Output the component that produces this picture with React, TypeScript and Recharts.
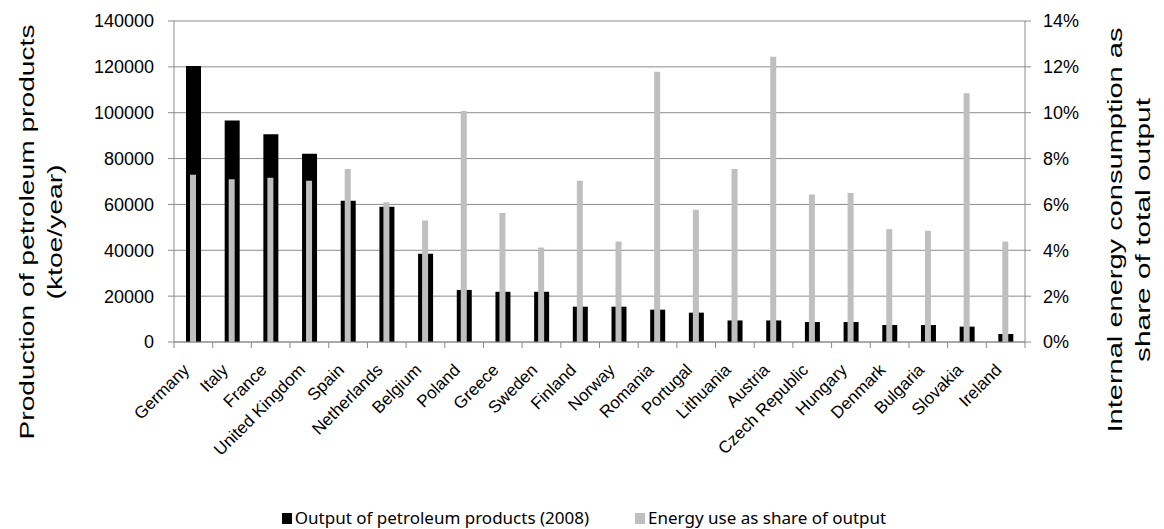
import React from 'react';
import { ComposedChart, Bar, XAxis, YAxis, CartesianGrid, Legend } from 'recharts';

const countries = [
  'Germany', 'Italy', 'France', 'United Kingdom', 'Spain', 'Netherlands', 'Belgium', 'Poland',
  'Greece', 'Sweden', 'Finland', 'Norway', 'Romania', 'Portugal', 'Lithuania', 'Austria',
  'Czech Republic', 'Hungary', 'Denmark', 'Bulgaria', 'Slovakia', 'Ireland',
];

const output2008 = [
  120400, 96600, 90600, 82100, 61600, 59000, 38500, 22700, 21900, 21900, 15400, 15400, 14100,
  12800, 9400, 9400, 8700, 8700, 7400, 7400, 6700, 3500,
];

const energyShare = [
  0.0729, 0.071, 0.0716, 0.0703, 0.0754, 0.061, 0.053, 0.1007, 0.0563, 0.0412, 0.0703, 0.0438,
  0.1179, 0.0577, 0.0755, 0.1244, 0.0643, 0.065, 0.0492, 0.0485, 0.1085, 0.0438,
];

const leftTicks = [0, 20000, 40000, 60000, 80000, 100000, 120000, 140000];
const rightTicks = [0, 0.02, 0.04, 0.06, 0.08, 0.1, 0.12, 0.14];

const data = countries.map((name, i) => ({ name, output: output2008[i], share: energyShare[i] }));

const FONT = '"Liberation Sans", Arial, sans-serif';
const AXIS = '#8c8c8c';
const BAND = 851 / countries.length;

const CountryTick = (props: any) => {
  const { x, y, payload, index } = props;
  const ax = x - 3;
  const ay = y + 21;
  return (
    <g>
      <line x1={x - BAND / 2} x2={x - BAND / 2} y1={y - 8} y2={y - 2} stroke={AXIS} />
      {index === countries.length - 1 && (
        <line x1={x + BAND / 2} x2={x + BAND / 2} y1={y - 8} y2={y - 2} stroke={AXIS} />
      )}
      <text
        x={ax}
        y={ay}
        textAnchor="end"
        fontSize={17}
        fontFamily={FONT}
        fill="#000"
        transform={`rotate(-45, ${ax}, ${ay})`}
      >
        {payload.value}
      </text>
    </g>
  );
};

// rotated titles: the reference stretches them along the axis
const RotTitle = ({ x, y, len, children }: any) => (
  <text
    x={x}
    y={y}
    textAnchor="middle"
    fontSize={20}
    fontFamily={FONT}
    fill="#000"
    textLength={len}
    lengthAdjust="spacingAndGlyphs"
    transform={`rotate(-90, ${x}, ${y})`}
  >
    {children}
  </text>
);

const LeftTitle = () => (
  <g>
    <RotTitle x={34} y={232} len={415}>Production of petroleum products</RotTitle>
    <RotTitle x={62} y={232} len={135}>(ktoe/year)</RotTitle>
  </g>
);

const RightTitle = () => (
  <g>
    <RotTitle x={1122} y={230} len={405}>Internal energy consumption as</RotTitle>
    <RotTitle x={1150} y={230} len={264}>share of total output</RotTitle>
  </g>
);

const ChartLegend = () => (
  <div
    style={{
      height: 22,
      lineHeight: '22px',
      display: 'flex',
      justifyContent: 'center',
      alignItems: 'center',
      fontFamily: '"Noto Sans", sans-serif',
      fontSize: 17,
      color: '#000',
      paddingLeft: 4,
    }}
  >
    <span style={{ display: 'inline-block', width: 10, height: 11, background: '#000', marginRight: 3 }} />
    <span style={{ marginRight: 46 }}>Output of petroleum products (2008)</span>
    <span style={{ display: 'inline-block', width: 10, height: 11, background: '#bfbfbf', marginRight: 3 }} />
    <span>Energy use as share of output</span>
  </div>
);

export default function App() {
  return (
    <div style={{ position: 'absolute', left: 0, top: 0, width: 1164, height: 529, background: '#fff' }}>
      <ComposedChart
        width={1164}
        height={529}
        data={data}
        margin={{ top: 21, right: 0, left: 0, bottom: 0 }}
      >
        <CartesianGrid vertical={false} stroke={AXIS} yAxisId="left" xAxisId="a" />
        <XAxis
          xAxisId="a"
          dataKey="name"
          interval={0}
          height={165}
          tickLine={false}
          axisLine={{ stroke: AXIS }}
          tick={<CountryTick />}
        />
        <XAxis xAxisId="b" dataKey="name" hide />
        <YAxis
          yAxisId="left"
          orientation="left"
          width={174}
          domain={[0, 140000]}
          ticks={leftTicks}
          interval={0}
          tickSize={6}
          tickMargin={14}
          tickLine={{ stroke: AXIS }}
          axisLine={{ stroke: AXIS }}
          tick={{ fill: '#000', fontSize: 18, fontFamily: FONT }}
          label={{ content: () => <LeftTitle /> }}
        />
        <YAxis
          yAxisId="right"
          orientation="right"
          width={139}
          domain={[0, 0.14]}
          ticks={rightTicks}
          interval={0}
          tickSize={6}
          tickMargin={12}
          tickLine={{ stroke: AXIS }}
          axisLine={{ stroke: AXIS }}
          tickFormatter={(v: number) => `${Math.round(v * 100)}%`}
          tick={{ fill: '#000', fontSize: 18, fontFamily: FONT, textAnchor: 'start' }}
          label={{ content: () => <RightTitle /> }}
        />
        <Bar
          dataKey="output"
          name="Output of petroleum products (2008)"
          xAxisId="a"
          yAxisId="left"
          fill="#000"
          barSize={15}
          isAnimationActive={false}
        />
        <Bar
          dataKey="share"
          name="Energy use as share of output"
          xAxisId="b"
          yAxisId="right"
          fill="#bfbfbf"
          barSize={6}
          isAnimationActive={false}
        />
        <Legend verticalAlign="bottom" content={() => <ChartLegend />} />
      </ComposedChart>
    </div>
  );
}
